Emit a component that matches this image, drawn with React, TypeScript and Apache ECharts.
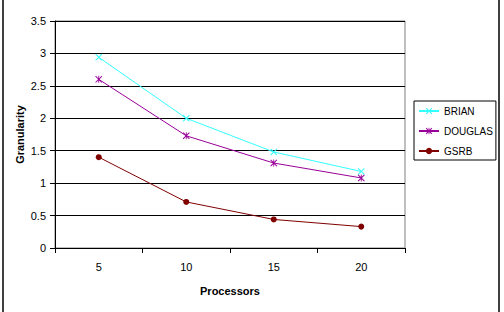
import React, { useEffect, useRef } from "react";
import * as echarts from "echarts";

const categories = ["5", "10", "15", "20"];
const brian = [2.94, 2.0, 1.48, 1.18];
const douglas = [2.6, 1.73, 1.31, 1.08];
const gsrb = [1.4, 0.71, 0.44, 0.33];
const yTicks = { min: 0, max: 3.5, interval: 0.5 };

const X_PATH =
  "path://M0,1L1,0L5,4L9,0L10,1L6,5L10,9L9,10L5,6L1,10L0,9L4,5Z";
const STAR_PATH =
  "path://M0,1L1,0L5,4L9,0L10,1L6,5L10,9L9,10L5,6L1,10L0,9L4,5Z M4.4,0L5.6,0L5.6,10L4.4,10Z";

export default function App() {
  const ref = useRef<HTMLDivElement>(null);
  useEffect(() => {
    if (!ref.current) return;
    const chart = echarts.init(ref.current, null, { renderer: "svg" });
    const font = "Liberation Sans, Arial, sans-serif";
    chart.setOption({
      animation: false,
      backgroundColor: "#ffffff",
      textStyle: { fontFamily: font },
      grid: {
        left: 55,
        top: 21,
        width: 350,
        height: 227,
        show: true,
        borderColor: "#808080",
        borderWidth: 1,
        containLabel: false,
      },
      legend: {
        orient: "vertical",
        left: 414,
        top: 101,
        padding: [5, 3, 4, 4],
        itemGap: 10,
        itemWidth: 20,
        itemHeight: 8,
        borderColor: "#000",
        borderWidth: 1,
        textStyle: { fontSize: 10, color: "#000", fontFamily: font },
        data: ["BRIAN", "DOUGLAS", "GSRB"],
      },
      xAxis: {
        type: "category",
        data: categories,
        boundaryGap: true,
        name: "Processors",
        nameLocation: "middle",
        nameGap: 37,
        nameMoveOverlap: false,
        nameTextStyle: { fontSize: 11, fontWeight: "bold", color: "#000", fontFamily: font },
        axisLine: { lineStyle: { color: "#000", width: 1 } },
        axisTick: { show: true, length: 5, alignWithLabel: false, lineStyle: { color: "#000" } },
        axisLabel: { fontSize: 11, color: "#000", margin: 13, fontFamily: font },
        splitLine: { show: false },
      },
      yAxis: {
        type: "value",
        min: yTicks.min,
        max: yTicks.max,
        interval: yTicks.interval,
        name: "Granularity",
        nameLocation: "middle",
        nameGap: 30,
        nameMoveOverlap: false,
        nameTextStyle: { fontSize: 11, fontWeight: "bold", color: "#000", fontFamily: font },
        axisLine: { show: true, lineStyle: { color: "#000", width: 1 } },
        axisTick: { show: true, length: 5, lineStyle: { color: "#000" } },
        axisLabel: { fontSize: 11, color: "#000", margin: 9, fontFamily: font },
        splitLine: { show: true, lineStyle: { color: "#000", width: 1 } },
      },
      series: [
        {
          name: "BRIAN",
          type: "line",
          data: brian,
          color: "#33FFFF",
          symbol: X_PATH,
          symbolSize: 7,
          lineStyle: { width: 1, color: "#33FFFF" },
          itemStyle: { color: "#33FFFF" },
        },
        {
          name: "DOUGLAS",
          type: "line",
          data: douglas,
          color: "#990099",
          symbol: STAR_PATH,
          symbolSize: 7,
          lineStyle: { width: 1, color: "#990099" },
          itemStyle: { color: "#990099" },
        },
        {
          name: "GSRB",
          type: "line",
          data: gsrb,
          color: "#800000",
          symbol: "circle",
          symbolSize: 6,
          lineStyle: { width: 1, color: "#800000" },
          itemStyle: { color: "#800000" },
        },
      ],
      graphic: [
        { type: "line", shape: { x1: 3, y1: 0, x2: 3, y2: 312 }, style: { stroke: "#000", lineWidth: 1.5 } },
        { type: "line", shape: { x1: 499, y1: 0, x2: 499, y2: 312 }, style: { stroke: "#000", lineWidth: 1.5 } },
      ],
    });
    return () => chart.dispose();
  }, []);
  return (
    <div
      ref={ref}
      style={{ position: "fixed", left: 0, top: 0, width: 504, height: 312 }}
    />
  );
}
